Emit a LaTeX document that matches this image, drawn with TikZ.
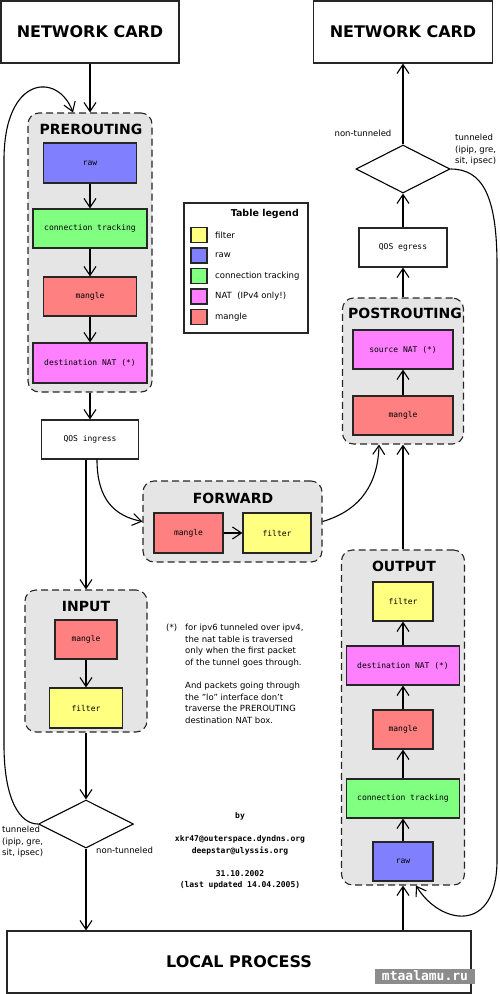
\documentclass[tikz,border=0pt]{standalone}
\usepackage{fontspec}
\setmainfont{DejaVu Sans}
\newfontfamily\monofont{DejaVu Sans Mono}
\usepackage{tikz}
\usetikzlibrary{shapes}
\usetikzlibrary{arrows.meta}

\definecolor{filtercol}{HTML}{FFFF80}
\definecolor{rawcol}{HTML}{8080FF}
\definecolor{conntrackcol}{HTML}{80FF80}
\definecolor{natcol}{HTML}{FF80FF}
\definecolor{manglecol}{HTML}{FF8080}

\tikzset{
    chainbox/.style={draw=black!85, line width=1.1pt, dash pattern=on 7pt off 4pt, rounded corners=11pt, fill=black!10, inner sep=0pt},
    chaintitle/.style={font=\bfseries\fontsize{14}{16}\selectfont, inner sep=0pt},
    tablebox/.style={draw=black!85, line width=1.2pt, inner sep=0pt, minimum height=39pt, font=\monofont\fontsize{8}{9}\selectfont},
    plainbox/.style={draw=black!85, line width=1.1pt, inner sep=0pt, font=\monofont\fontsize{8}{9}\selectfont},
    cardbox/.style={draw=black!85, line width=1.1pt, inner sep=0pt, minimum height=62pt, font=\bfseries\fontsize{16}{18}\selectfont},
    decision/.style={diamond, draw, line width=1.1pt, inner sep=0pt, minimum width=95pt, minimum height=48pt},
    flow/.style={-{Straight Barb[length=9pt,width=12pt]}, line width=1.1pt},
    note/.style={font=\fontsize{8.5}{11.6}\selectfont, align=left, inner sep=0pt},
}

\begin{document}
\begin{tikzpicture}[x=1pt, y=-1pt]
    \useasboundingbox (0,0) rectangle (500,994); % same size as the reference, y runs down

    % left column: incoming packets
    \node[cardbox, minimum width=178pt] (ncin) at (90,32) {NETWORK CARD};
    \node[chainbox, minimum width=124pt, minimum height=279pt] (pre) at (90,252.5) {};
    \node[chaintitle] (pretitle) at (91,129) {PREROUTING};
    \node[tablebox, fill=rawcol, minimum width=93pt, minimum height=40pt] (preraw) at (90,163) {raw};
    \node[tablebox, fill=conntrackcol, minimum width=114pt] (prect) at (90,228.5) {connection tracking};
    \node[tablebox, fill=manglecol, minimum width=93pt] (premangle) at (90,296.5) {mangle};
    \node[tablebox, fill=natcol, minimum width=114pt, minimum height=40pt] (prednat) at (90,363) {destination NAT (*)};
    \node[plainbox, minimum width=97pt, minimum height=39pt] (qosin) at (90,439.5) {QOS ingress};

    \node[chainbox, minimum width=179pt, minimum height=81pt] (fwd) at (232.5,521.5) {};
    \node[chaintitle] (fwdtitle) at (233,498) {FORWARD};
    \node[tablebox, fill=manglecol, minimum width=69pt, minimum height=40pt] (fwdmangle) at (188.5,533) {mangle};
    \node[tablebox, fill=filtercol, minimum width=68pt, minimum height=40pt] (fwdfilter) at (277,533) {filter};

    \node[chainbox, minimum width=122pt, minimum height=142pt] (inp) at (86,661) {};
    \node[chaintitle] (inptitle) at (86,606) {INPUT};
    \node[tablebox, fill=manglecol, minimum width=62pt] (inmangle) at (86,639.5) {mangle};
    \node[tablebox, fill=filtercol, minimum width=73pt, minimum height=40pt] (infilter) at (86,708) {filter};

    \node[decision] (dl) at (86,824) {};
    \node[note, anchor=north west] (dltun) at (2,826) {tunneled\\(ipip, gre,\\sit, ipsec)};
    \node[note, anchor=west] (dlnon) at (96,850) {non-tunneled};

    \node[cardbox, minimum width=464pt] (lp) at (239,962) {LOCAL PROCESS};

    % right column: outgoing packets
    \node[cardbox, minimum width=179pt] (ncout) at (403,32) {NETWORK CARD};
    \node[decision, minimum width=94pt] (dr) at (403,169) {};
    \node[note] (drnon) at (363,133) {non-tunneled};
    \node[note, anchor=north west] (drtun) at (455,134) {tunneled\\(ipip, gre,\\sit, ipsec)};
    \node[plainbox, minimum width=88pt, minimum height=39pt] (qoseg) at (403,247.5) {QOS egress};

    \node[chainbox, minimum width=121pt, minimum height=146pt] (post) at (403,371) {};
    \node[chaintitle] (posttitle) at (405,313) {POSTROUTING};
    \node[tablebox, fill=natcol, minimum width=100pt] (postsnat) at (403,349.5) {source NAT (*)};
    \node[tablebox, fill=manglecol, minimum width=100pt] (postmangle) at (403,415.5) {mangle};

    \node[chainbox, minimum width=123pt, minimum height=335pt] (out) at (403,717.5) {};
    \node[chaintitle] (outtitle) at (404,566) {OUTPUT};
    \node[tablebox, fill=filtercol, minimum width=60pt] (outfilter) at (403,601.5) {filter};
    \node[tablebox, fill=natcol, minimum width=113pt] (outdnat) at (403,665.5) {destination NAT (*)};
    \node[tablebox, fill=manglecol, minimum width=60pt] (outmangle) at (403,729.5) {mangle};
    \node[tablebox, fill=conntrackcol, minimum width=113pt] (outct) at (403,798.5) {connection tracking};
    \node[tablebox, fill=rawcol, minimum width=60pt] (outraw) at (403,861.5) {raw};

    % legend
    \node[plainbox, minimum width=124pt, minimum height=130pt] (legend) at (246,268) {};
    \node[font=\bfseries\fontsize{9.5}{11}\selectfont, anchor=east, inner sep=0pt] (legendtitle) at (299,214) {Table legend};
    \foreach \col/\txt [count=\i] in {filtercol/filter, rawcol/raw, conntrackcol/connection tracking, natcol/NAT\ \ (IPv4 only!), manglecol/mangle} {
        \node[draw=black!85, line width=1.1pt, fill=\col, minimum width=16pt, minimum height=15pt, inner sep=0pt] (swatch\i) at (199,214.5+20.5*\i) {};
        \node[note, anchor=west] (legtext\i) at (215,214.5+20.5*\i) {\txt};
    }

    % notes
    \node[note, anchor=west] (star) at (166,628) {(*)};
    \node[note, anchor=north west] (footnote) at (185,624) {for ipv6 tunneled over ipv4,\\the nat table is traversed\\only when the first packet\\of the tunnel goes through.\\[11.6pt]And packets going through\\the "lo" interface don't\\traverse the PREROUTING\\destination NAT box.};
    \node[font=\monofont\bfseries\fontsize{8}{11.6}\selectfont, align=center, anchor=north, inner sep=0pt] (credits) at (240,812) {by\\[11.6pt]xkr47@outerspace.dyndns.org\\deepstar@ulyssis.org\\[11.6pt]31.10.2002\\(last updated 14.04.2005)};
    \node[fill=black!45, text=white, font=\monofont\bfseries\fontsize{13}{14}\selectfont, inner sep=0pt, minimum width=100pt, minimum height=15pt] (watermark) at (425,976) {mtaalamu.ru};

    % connectors
    \draw[flow] (ncin.south) -- (pre.north);
    \foreach \a/\b in {preraw/prect, prect/premangle, premangle/prednat} \draw[flow] (\a) -- (\b);
    \draw[flow] (pre.south) -- (qosin.north);
    \draw[flow] (inp.north |- qosin.south) -- (inp.north);
    \draw[flow] ([xshift=7pt]qosin.south) .. controls (97,500) and (115,516) .. (fwd.west);
    \draw[flow] (fwdmangle) -- (fwdfilter);
    \draw[flow] (fwd.east) .. controls (362,510) and (378,482) .. ([xshift=-24pt]post.south);
    \draw[flow] (inmangle) -- (infilter);
    \draw[flow] (inp.south) -- (dl.north);
    \draw[flow] (dl.south) -- (dl.south |- lp.north);
    \draw[flow] (dl.west) .. controls (20,824) and (4,800) .. (4,745) -- (4,160) .. controls (4,75) and (58,72) .. ([xshift=-17pt]pre.north); % tunneled packets go round again

    \draw[flow] (out.south |- lp.north) -- (out.south);
    \foreach \a/\b in {outraw/outct, outct/outmangle, outmangle/outdnat, outdnat/outfilter} \draw[flow] (\a) -- (\b);
    \draw[flow] (out.north) -- (post.south);
    \draw[flow] (postmangle) -- (postsnat);
    \draw[flow] (post.north) -- (qoseg.south);
    \draw[flow] (qoseg) -- (dr);
    \draw[flow] (dr.north) -- (ncout.south);
    \draw[flow] (dr.east) .. controls (482,169) and (497,195) .. (497,265) -- (497,860) .. controls (497,935) and (440,925) .. ([xshift=13pt]out.south);
\end{tikzpicture}
\end{document}
